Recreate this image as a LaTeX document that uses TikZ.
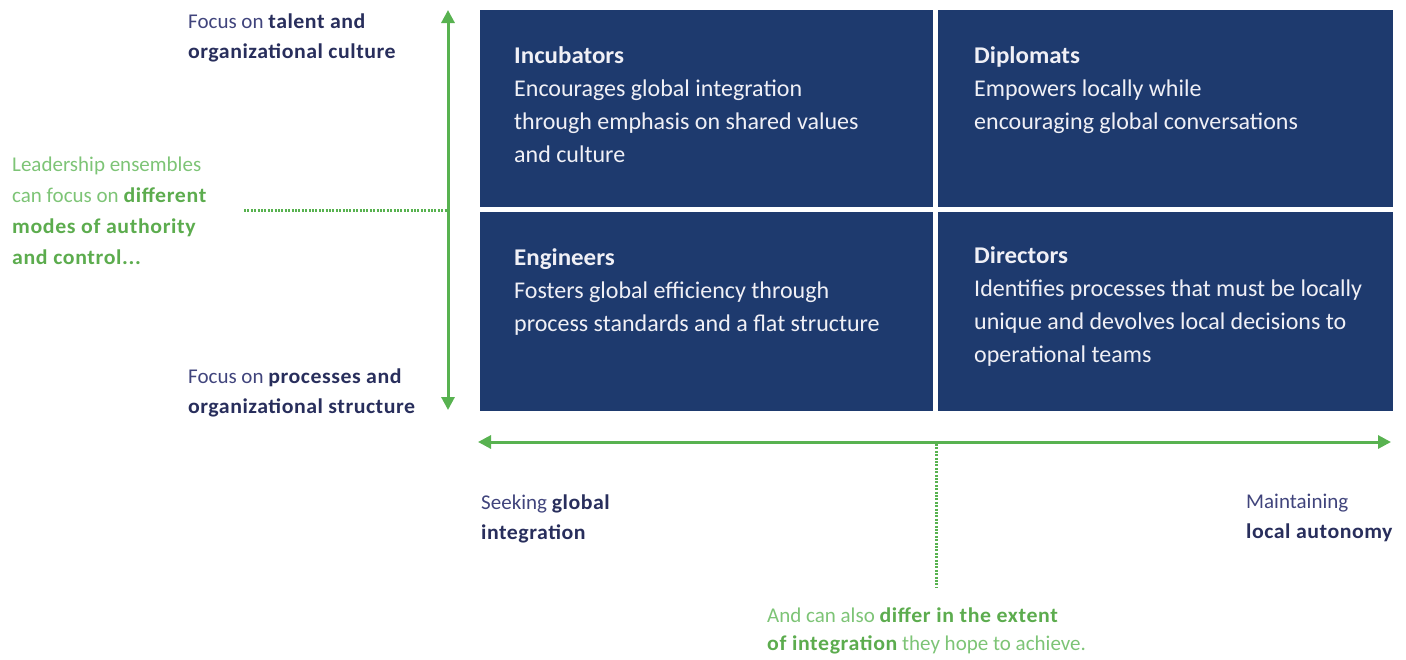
\documentclass[tikz,border=0pt]{standalone}
\usepackage{fontspec}
\setmainfont{Carlito}[BoldFeatures={FakeStretch=1.04}]
\usetikzlibrary{arrows.meta}
\definecolor{navybox}{RGB}{30,58,110}
\definecolor{celltext}{RGB}{240,240,246}
\definecolor{labreg}{RGB}{64,68,124}
\definecolor{labbold}{RGB}{40,46,92}
\definecolor{axgreen}{RGB}{88,178,80}
\definecolor{grreg}{RGB}{125,196,118}
\definecolor{grbold}{RGB}{92,172,78}
\newcommand{\fl}{\rule{0pt}{20pt}}
\tikzset{
  cellbox/.style={fill=navybox, draw=none, inner sep=0, anchor=north west},
  celltxt/.style={anchor=north west, inner sep=0, align=left, text=celltext,
    font=\fontsize{24}{33}\selectfont},
  labtxt/.style={anchor=north west, inner sep=0, align=left, text=labreg,
    font=\fontsize{21}{30}\selectfont},
  grtxt/.style={anchor=north west, inner sep=0, align=left, text=grreg,
    font=\fontsize{21}{31}\selectfont},
  axis/.style={draw=axgreen, line width=3pt, {Triangle[length=13pt,width=13pt]}-{Triangle[length=13pt,width=13pt]}},
  dotline/.style={draw=axgreen, line width=3pt, dash pattern=on 2pt off 1.4pt}
}
\newcommand{\lb}[1]{\textcolor{labbold}{\bfseries\addfontfeature{LetterSpace=2.5}#1}}
\newcommand{\gb}[1]{\textcolor{grbold}{\bfseries\addfontfeature{LetterSpace=3}#1}}
\begin{document}
\begin{tikzpicture}[x=1pt,y=-1pt]
\useasboundingbox (0,0) rectangle (1406,659);
% cells
\node[cellbox, minimum width=453pt, minimum height=197pt] (inc) at (480,10) {};
\node[cellbox, minimum width=455pt, minimum height=197pt] (dip) at (938,10) {};
\node[cellbox, minimum width=453pt, minimum height=199pt] (eng) at (480,212) {};
\node[cellbox, minimum width=455pt, minimum height=199pt] (dir) at (938,212) {};
% cell texts
\node[celltxt] (tinc) at (514,43) {\fl\bfseries Incubators\\Encourages global integration\\through emphasis on shared values\\and culture};
\node[celltxt] (tdip) at (974,43) {\fl\bfseries Diplomats\\Empowers locally while\\encouraging global conversations};
\node[celltxt] (teng) at (514,245) {\fl\bfseries Engineers\\Fosters global efficiency through\\process standards and a flat structure};
\node[celltxt] (tdir) at (974,243) {\fl\bfseries Directors\\Identifies processes that must be locally\\unique and devolves local decisions to\\operational teams};
% axes
\coordinate (vtop) at (448,10);
\coordinate (vbot) at (448,410);
\coordinate (hl) at (478,442);
\coordinate (hr) at (1391,442);
\draw[axis] (vbot) -- (vtop);
\draw[axis] (hl) -- (hr);
\coordinate (dh1) at (244,210);
\coordinate (dh2) at (447,210);
\coordinate (dv1) at (936,444);
\coordinate (dv2) at (936,588);
\draw[dotline] (dh1) -- (dh2);
\draw[dotline] (dv1) -- (dv2);
% labels
\node[labtxt] (ltop) at (188,8) {\fl Focus on \lb{talent and}\\\lb{organizational culture}};
\node[labtxt] (lbot) at (188,363) {\fl Focus on \lb{processes and}\\\lb{organizational structure}};
\node[labtxt] (lleft) at (481,489) {\fl Seeking \lb{global}\\\lb{integration}};
\node[labtxt] (lright) at (1246,488) {\fl Maintaining\\\lb{local autonomy}};
\node[grtxt] (gleft) at (12,151) {\fl Leadership ensembles\\can focus on \gb{different}\\\gb{modes of authority}\\\gb{and control...}};
\node[grtxt, font=\fontsize{21}{28}\selectfont] (gbot) at (767,602) {\fl And can also \gb{differ in the extent}\\\gb{of integration} they hope to achieve.};
\end{tikzpicture}
\end{document}
